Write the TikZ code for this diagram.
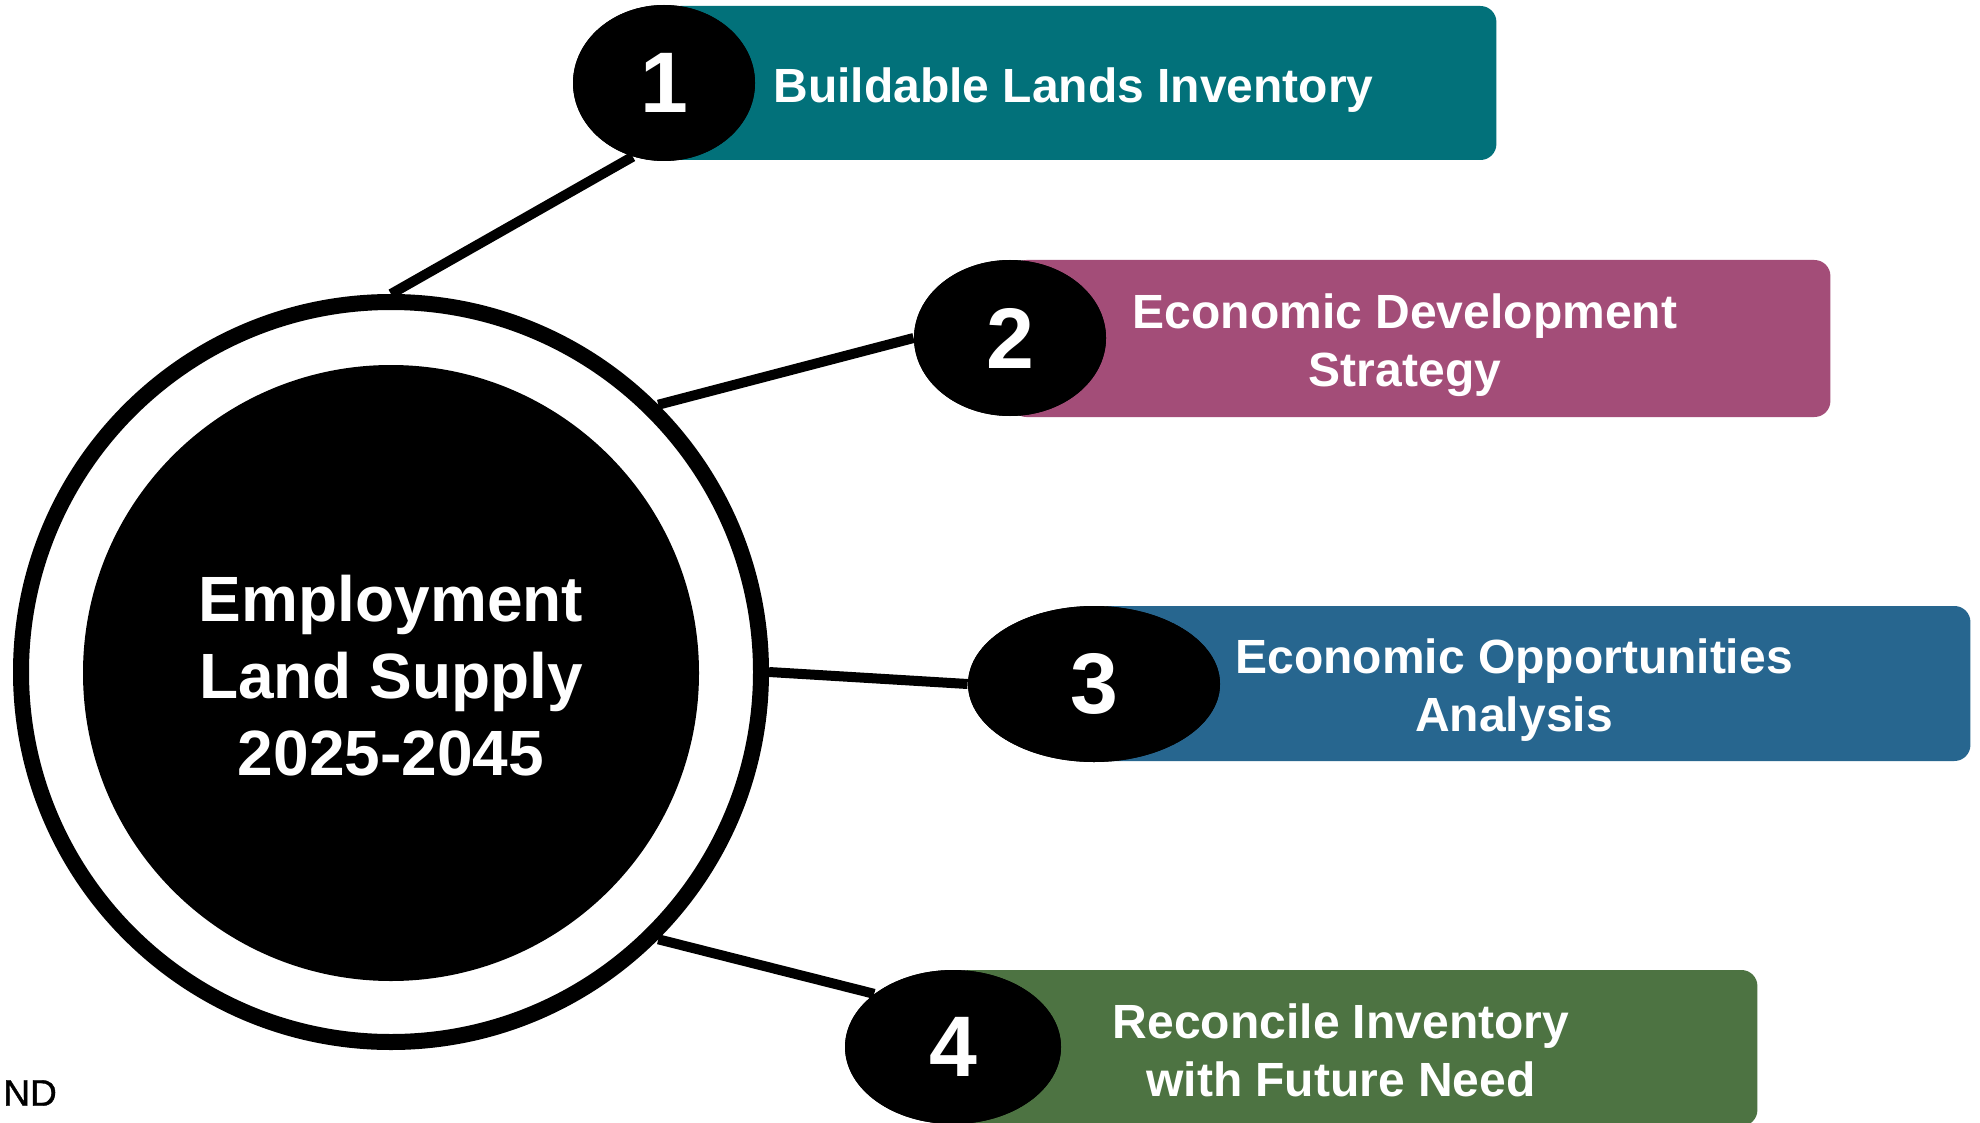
\documentclass[tikz,border=0pt]{standalone}
\usepackage{fontspec}
\setmainfont{Liberation Sans}
\usetikzlibrary{shapes.geometric}
\definecolor{cteal}{RGB}{2,113,122}
\definecolor{cmauve}{RGB}{163,77,120}
\definecolor{cblue}{RGB}{39,102,143}
\definecolor{cgreen}{RGB}{77,115,66}
\tikzset{
  conn/.style={line width=5pt, black},
  numell/.style={ellipse, fill=black, inner sep=0pt, text=white, font=\fontsize{43}{43}\selectfont\bfseries},
  stepbox/.style={rectangle, rounded corners=8pt, inner sep=0pt, anchor=west},
  boxtext/.style={text=white, align=center, inner sep=0pt, font=\fontsize{24}{29}\selectfont\bfseries},
}
\begin{document}
\begin{tikzpicture}[x=0.5pt,y=-0.5pt]
\useasboundingbox (0,0) rectangle (1980,1123);
\clip (0,0) rectangle (1980,1123);
\fill[white] (0,0) rectangle (1980,1123);

% boxes
\node[stepbox, fill=cteal, minimum width=416pt, minimum height=77pt] (b1) at (664,83) {};
\node[stepbox, fill=cmauve, minimum width=410pt, minimum height=78.5pt] (b2) at (1010,338.5) {};
\node[stepbox, fill=cblue, minimum width=438pt, minimum height=77.5pt] (b3) at (1094,683.5) {};
\node[stepbox, fill=cgreen, minimum width=402pt, minimum height=78pt] (b4) at (953,1048) {};

% number ellipses (placeholders for anchors)
\node[numell, minimum width=91pt, minimum height=78pt] (e1) at (664,83) {};
\node[numell, minimum width=96pt, minimum height=78pt] (e2) at (1010,338) {};
\node[numell, minimum width=126pt, minimum height=78pt] (e3) at (1094,684) {};
\node[numell, minimum width=108pt, minimum height=77pt] (e4) at (953,1047) {};

% central ring and disc
\node[circle, draw=black, line width=8pt, fill=white, minimum size=370pt, inner sep=0pt] (ring) at (391,672) {};
\node[circle, fill=black, minimum size=308pt, inner sep=0pt] (core) at (391,673) {};
\node[text=white, align=center, inner sep=0pt,
      font=\fontsize{32}{38.5}\selectfont\bfseries] (coretext) at (391,676) {Employment\\Land Supply\\2025-2045};

% connectors
\draw[conn] (ring.90) -- (e1.-113);
\draw[conn] (ring.45) -- (e2.west);
\draw[conn] (ring.0) -- (e3.west);
\draw[conn] (ring.-45) -- (e4.146);

% ellipses above connector ends
\node[numell, minimum width=91pt, minimum height=78pt] (n1) at (e1) {1};
\node[numell, minimum width=96pt, minimum height=78pt] (n2) at (e2) {2};
\node[numell, minimum width=126pt, minimum height=78pt] (n3) at (e3) {3};
\node[numell, minimum width=108pt, minimum height=77pt] (n4) at (e4) {4};

% box texts
\node[boxtext, anchor=west] (t1) at (773,90) {Buildable Lands Inventory};
\node[boxtext] (t2) at (1405,345) {Economic Development\\Strategy};
\node[boxtext] (t3) at (1514,690) {Economic Opportunities\\Analysis};
\node[boxtext] (t4) at (1341,1050) {Reconcile Inventory\\with Future Need};

% cut-off label
\node[anchor=west, inner sep=0pt, font=\fontsize{18.5}{18.5}\selectfont\addfontfeature{FakeBold=1}] (nd) at (3,1093) {ND};
\end{tikzpicture}
\end{document}
